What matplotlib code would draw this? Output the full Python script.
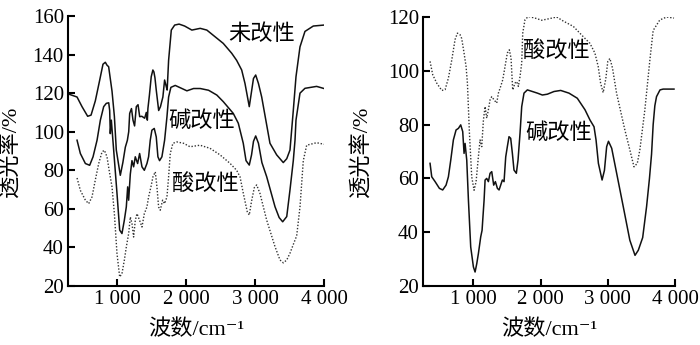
import matplotlib
matplotlib.use("Agg")
import matplotlib.pyplot as plt

plt.rcParams['font.family'] = ['Liberation Serif', 'Noto Sans CJK SC', 'DejaVu Sans']

# ---------------- data ----------------
# Left panel
L_raw_x = [300, 421, 493, 575, 624, 686, 749, 797, 831, 855, 879, 928, 962, 990, 1048, 1085, 1121, 1150,
           1170, 1184, 1210, 1232, 1255, 1280, 1305, 1329, 1360, 1401, 1425, 1440, 1448, 1470, 1496, 1520,
           1535, 1550, 1569, 1604, 1630, 1665, 1690, 1710, 1727, 1748, 1787, 1836, 1900, 1980, 2085, 2206,
           2302, 2395, 2540, 2662, 2734, 2807, 2855, 2917, 2978, 3010, 3050, 3097, 3217, 3314, 3410, 3460,
           3507, 3555, 3594, 3652, 3724, 3845, 4000]
L_raw_y = [119.5, 118, 113, 108, 108.6, 116, 126.7, 135, 136, 134.5, 133.7, 121, 108, 90.5, 77.4, 84, 92, 95.5,
           100, 109.5, 112, 106, 103, 113, 114, 107.8, 108, 107, 110, 106, 112, 119, 128.5, 132,
           131, 128, 121.6, 111, 113, 118, 126.8, 124, 121.6, 137, 152.7, 155.3, 155.8, 154.8, 152.7, 153.6,
           152.7, 150, 145.8, 140.7, 137, 132, 125, 113, 127.6, 129.4, 125, 118, 94, 88, 84, 86,
           90.5, 111, 128.5, 144, 152, 154.8, 155.3]

L_alk_x = [421, 469, 542, 604, 653, 711, 759, 807, 845, 880, 894, 903, 918, 952, 1000, 1039, 1072, 1106,
           1135, 1155, 1169, 1193, 1217, 1241, 1265, 1299, 1328, 1362, 1396, 1434, 1458, 1482, 1506, 1540,
           1569, 1593, 1617, 1651, 1690, 1724, 1748, 1781, 1844, 1941, 2013, 2110, 2206, 2327, 2447, 2540,
           2685, 2758, 2830, 2870, 2917, 2950, 2978, 3010, 3050, 3100, 3169, 3290, 3350, 3401, 3460, 3507,
           3555, 3580, 3594, 3652, 3724, 3893, 4000]
L_alk_y = [95.6, 88.7, 83.5, 82.6, 87, 95.6, 106, 113, 114.7, 115, 111, 99, 106, 90.4, 68, 49, 47.2, 54,
           61, 71.4, 64.5, 78, 85, 81.8, 87, 83.5, 88.7, 81.8, 80, 83.5, 87, 95.6, 100.8, 101.7,
           97.3, 87, 85, 87, 95.6, 107.7, 118, 123, 124, 122.4, 121.2, 122.4, 122.4, 121.5, 119, 115.6,
           109.5, 104.4, 94, 85, 82.7, 88, 95, 97.8, 94, 84, 76.7, 61.1, 55.5, 53.3, 56, 69.8,
           85, 95.7, 106, 120, 122.5, 123.5, 122.4]

L_acid_x = [421, 469, 542, 590, 638, 686, 735, 783, 817, 855, 894, 928, 962, 1000, 1039, 1072, 1106, 1135,
            1169, 1193, 1217, 1241, 1265, 1290, 1328, 1362, 1396, 1434, 1458, 1492, 1521, 1555, 1579, 1603,
            1627, 1661, 1690, 1724, 1748, 1772, 1810, 1868, 1965, 2058, 2203, 2348, 2493, 2638, 2734, 2783,
            2831, 2888, 2917, 2950, 2990, 3024, 3072, 3169, 3290, 3362, 3411, 3460, 3507, 3560, 3604, 3652,
            3700, 3749, 3893, 4000]
L_acid_y = [76, 69.6, 64.5, 62.7, 66.2, 75, 83.5, 89.5, 90.4, 87, 78.3, 71.4, 57.5, 36.8, 24.7, 26.4, 33.3, 40.2,
            47.2, 55.8, 52.4, 45.4, 54, 57.5, 54, 50.6, 57.5, 61, 66.2, 71.4, 76.6, 79.2, 71.4, 61,
            59.3, 64.5, 62.7, 66.2, 76.6, 88.7, 94, 94.7, 94, 92.2, 93, 91.4, 88, 83.6, 80, 76.6,
            68, 58.5, 56.8, 64, 71, 72.4, 68, 54.2, 40.4, 33.5, 32, 33.5, 37, 42, 46, 61,
            85, 93, 94.3, 93.5]

# Right panel
R_acid_x = [355, 395, 455, 529, 579, 628, 678, 727, 762, 802, 826, 861, 891, 911, 941, 975, 1010, 1040,
            1074, 1099, 1124, 1149, 1174, 1198, 1223, 1248, 1273, 1307, 1347, 1372, 1406, 1436, 1471, 1505,
            1535, 1560, 1585, 1619, 1644, 1669, 1694, 1719, 1734, 1768, 1818, 1917, 2016, 2115, 2239, 2337,
            2487, 2634, 2734, 2808, 2857, 2893, 2931, 2970, 3000, 3031, 3070, 3131, 3254, 3328, 3390, 3439,
            3477, 3551, 3626, 3675, 3774, 3876, 3985]
R_acid_y = [103.5, 98.5, 95.4, 92.7, 93, 97.3, 104, 111.6, 114, 113.4, 112, 106.6, 101.6, 95.4, 76.8, 60.6, 55.6, 58.8,
            68, 74.3, 71.8, 81.7, 86.7, 82.4, 85.5, 89.2, 90.4, 89.2, 88, 91.7, 94.2, 96.6, 101.6, 106.6,
            107.8, 104.7, 92.9, 95.4, 96, 94.2, 97.9, 102.9, 114, 119, 120.2, 119.6, 118.8, 119.3, 120, 118.5,
            116.5, 112.7, 110.2, 106.6, 101.6, 95.4, 91.9, 97, 103.5, 104.6, 101, 91.6, 78, 70.6, 64.3, 65.6,
            70.6, 85.4, 104, 115, 118.9, 120, 119.6]

R_alk_x = [355, 380, 430, 494, 543, 593, 628, 663, 702, 742, 777, 811, 841, 861, 876, 901, 926, 960,
           1000, 1025, 1050, 1074, 1109, 1129, 1139, 1159, 1174, 1198, 1223, 1248, 1273, 1302, 1327, 1357,
           1382, 1406, 1431, 1456, 1481, 1505, 1530, 1555, 1580, 1604, 1639, 1664, 1694, 1719, 1753, 1803,
           1878, 1952, 2026, 2100, 2199, 2299, 2422, 2546, 2661, 2735, 2795, 2825, 2860, 2915, 2950, 2983,
           3010, 3058, 3131, 3230, 3328, 3405, 3454, 3519, 3577, 3620, 3651, 3675, 3700, 3725, 3777, 3824,
           3985]
R_alk_y = [65.6, 60.6, 58.8, 56.3, 55.7, 57.5, 60.6, 66.8, 74.3, 78, 78.6, 79.9, 77.4, 69.3, 73, 66.8, 51.9, 34.5,
           27.1, 25.2, 28.3, 32, 38.3, 40.7, 44.5, 51.9, 59.4, 60, 58.8, 61.9, 62.5, 57.5, 58.8, 56.3,
           55.7, 57.5, 59.4, 58.8, 68, 71.8, 75.5, 74.9, 69.3, 63.1, 61.9, 66.8, 76.8, 86.7, 91.7, 92.9,
           92.3, 91.7, 91, 91.3, 92.3, 92.7, 91.7, 89.8, 85.5, 81.7, 79.2, 74.3, 65.6, 59.4, 63, 71.8,
           73.8, 71.2, 62, 49.5, 37, 31.4, 33.3, 38, 49.5, 60, 69, 80, 87, 90.4, 92.9, 93.2,
           93.2]

left_yticks = [20, 40, 60, 80, 100, 120, 140, 160]
right_yticks = [20, 40, 60, 80, 100, 120]
xticks = [1000, 2000, 3000, 4000]
xtick_labels = ['1 000', '2 000', '3 000', '4 000']

# ---------------- figure ----------------
fig = plt.figure(figsize=(7.0, 3.45), dpi=100)
axL = fig.add_axes([68/700, 1-286/345, 256/700, 270/345])
axR = fig.add_axes([423/700, 1-286/345, 252/700, 269/345])

solid = dict(color='#111111', lw=1.1)
dotted = dict(color='#333333', lw=1.0, linestyle=(0, (1, 1.3)))

axL.plot(L_raw_x, L_raw_y, **solid)
axL.plot(L_alk_x, L_alk_y, **solid)
axL.plot(L_acid_x, L_acid_y, **dotted)
axR.plot(R_acid_x, R_acid_y, **dotted)
axR.plot(R_alk_x, R_alk_y, **solid)

cjk = ['Noto Sans CJK SC', 'DejaVu Sans']
axL.text(2608, 150.7, '未改性', fontsize=16, family=cjk, ha='left', va='center')
axL.text(1739, 105.6, '碱改性', fontsize=16, family=cjk, ha='left', va='center')
axL.text(1797, 73.4, '酸改性', fontsize=16, family=cjk, ha='left', va='center')
axR.text(1743, 107.7, '酸改性', fontsize=16, family=cjk, ha='left', va='center')
axR.text(1768, 76.9, '碱改性', fontsize=16, family=cjk, ha='left', va='center')

for ax, yt, xmin in ((axL, left_yticks, 290), (axR, right_yticks, 250)):
    ax.set_xlim(xmin, 4000)
    ax.set_ylim(yt[0], yt[-1])
    ax.set_yticks(yt)
    ax.set_xticks(xticks, xtick_labels)
    for s in ('top', 'right'):
        ax.spines[s].set_visible(False)
    for s in ('left', 'bottom'):
        ax.spines[s].set_linewidth(1.5)
    ax.tick_params(direction='in', length=5, width=1.5, labelsize=15, pad=3)
    ax.set_xlabel('波数/cm⁻¹', fontsize=16)
    ax.set_ylabel('透光率/%', fontsize=16)
    ax.xaxis.set_label_coords(0.5, -0.125)

axL.yaxis.set_label_coords(-0.18, 0.5)
axR.yaxis.set_label_coords(-0.20, 0.5)

fig.savefig('out.png', dpi=100)
